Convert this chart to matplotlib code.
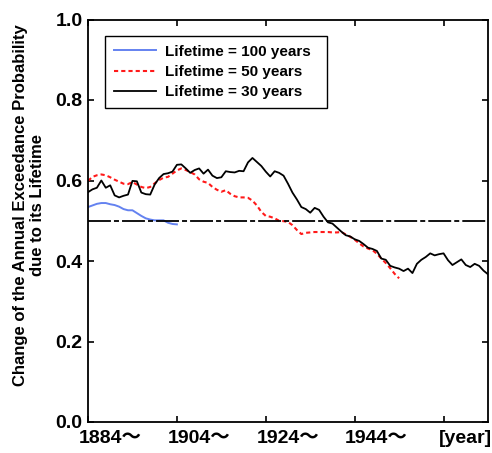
import matplotlib
matplotlib.use("Agg")
import matplotlib.pyplot as plt
import matplotlib.transforms as mtransforms

plt.rcParams['font.family'] = ['Liberation Sans', 'Noto Sans CJK JP']
plt.rcParams['font.weight'] = 'bold'
plt.rcParams['lines.scale_dashes'] = False

years_30 = list(range(1884, 1975))
prob_30 = [0.571, 0.578, 0.582, 0.600, 0.582, 0.588, 0.563, 0.558, 0.562, 0.565,
           0.599, 0.598, 0.570, 0.566, 0.565, 0.590, 0.606, 0.616, 0.618, 0.622,
           0.639, 0.640, 0.630, 0.619, 0.626, 0.630, 0.617, 0.627, 0.612, 0.606,
           0.608, 0.623, 0.621, 0.620, 0.624, 0.623, 0.645, 0.656, 0.646, 0.636,
           0.622, 0.610, 0.623, 0.619, 0.612, 0.592, 0.570, 0.553, 0.534, 0.529,
           0.520, 0.532, 0.527, 0.510, 0.496, 0.493, 0.483, 0.473, 0.464, 0.461,
           0.454, 0.450, 0.442, 0.433, 0.430, 0.425, 0.406, 0.403, 0.388, 0.384,
           0.381, 0.375, 0.381, 0.370, 0.393, 0.403, 0.410, 0.419, 0.414, 0.417,
           0.419, 0.402, 0.390, 0.397, 0.404, 0.390, 0.385, 0.393, 0.388, 0.376,
           0.367]

years_50 = list(range(1884, 1955))
prob_50 = [0.599, 0.609, 0.613, 0.615, 0.613, 0.608, 0.602, 0.597, 0.592, 0.591,
           0.596, 0.590, 0.584, 0.581, 0.584, 0.593, 0.601, 0.607, 0.609, 0.617,
           0.625, 0.630, 0.626, 0.621, 0.615, 0.603, 0.597, 0.594, 0.584, 0.577,
           0.572, 0.576, 0.567, 0.561, 0.558, 0.558, 0.557, 0.550, 0.538, 0.522,
           0.512, 0.510, 0.506, 0.500, 0.499, 0.497, 0.489, 0.477, 0.467, 0.470,
           0.471, 0.472, 0.472, 0.472, 0.472, 0.471, 0.471, 0.472, 0.466, 0.460,
           0.453, 0.444, 0.436, 0.431, 0.427, 0.418, 0.406, 0.395, 0.382, 0.368,
           0.357]

years_100 = list(range(1884, 1905))
prob_100 = [0.534, 0.538, 0.542, 0.544, 0.544, 0.541, 0.539, 0.535, 0.529, 0.526,
            0.526, 0.519, 0.512, 0.506, 0.503, 0.501, 0.501, 0.501, 0.495, 0.492,
            0.491]

x_ticks = [1884, 1904, 1924, 1944, 1964]
x_tick_labels = ['1884〜', '1904〜', '1924〜', '1944〜', '[year]']
y_ticks = [0.0, 0.2, 0.4, 0.6, 0.8, 1.0]
reference_level = 0.5

fig = plt.figure(figsize=(4.92, 4.53), dpi=100)
ax = fig.add_axes([88 / 492, 1 - 422 / 453, 400 / 492, 402.5 / 453])

ax.plot(years_100, prob_100, color='#6482f0', lw=1.4, label='Lifetime = 100 years')
ax.plot(years_50, prob_50, color='#ff1a1a', lw=1.5, dashes=(3.0, 2.2), label='Lifetime = 50 years')
ax.plot(years_30, prob_30, color='black', lw=1.3, label='Lifetime = 30 years')
ax.axhline(reference_level, color='black', lw=1.3, dashes=(16.5, 2.2, 3.6, 2.2))

ax.set_xlim(1884, 1974)
ax.set_ylim(0, 1.0)
ax.set_yticks(y_ticks)
ax.set_yticklabels([f'{v:.1f}' for v in y_ticks])
ax.set_xticks(x_ticks)
ax.set_xticklabels(x_tick_labels)

ax.tick_params(direction='in', length=4, width=1.2, top=True, right=True,
               labelsize=14, pad=4)
ax.tick_params(axis='x', pad=6)
offset = mtransforms.ScaledTranslation(0.22, 0, fig.dpi_scale_trans)
for lbl in ax.get_xticklabels():
    lbl.set_transform(lbl.get_transform() + offset)
    lbl.set_fontweight('bold')
for lbl in ax.get_yticklabels():
    lbl.set_fontweight('bold')

for sp in ax.spines.values():
    sp.set_linewidth(1.3)

ax.set_ylabel('Change of the Annual Exceedance Probability\ndue to its Lifetime',
              fontsize=12, fontweight='bold', linespacing=1.15)
ax.yaxis.set_label_coords(-0.1075, 0.538)

leg = ax.legend(loc='upper left', bbox_to_anchor=(0.0425, 0.786, 0.554, 0.174),
                mode='expand', fontsize=11,
                frameon=True, fancybox=False, framealpha=1, edgecolor='black',
                handlelength=2.75, handletextpad=0.6, labelspacing=0.4,
                borderpad=0.6, borderaxespad=0)
leg.get_frame().set_linewidth(1.0)
for t in leg.get_texts():
    t.set_fontweight('bold')

fig.savefig('out.png', dpi=100)
